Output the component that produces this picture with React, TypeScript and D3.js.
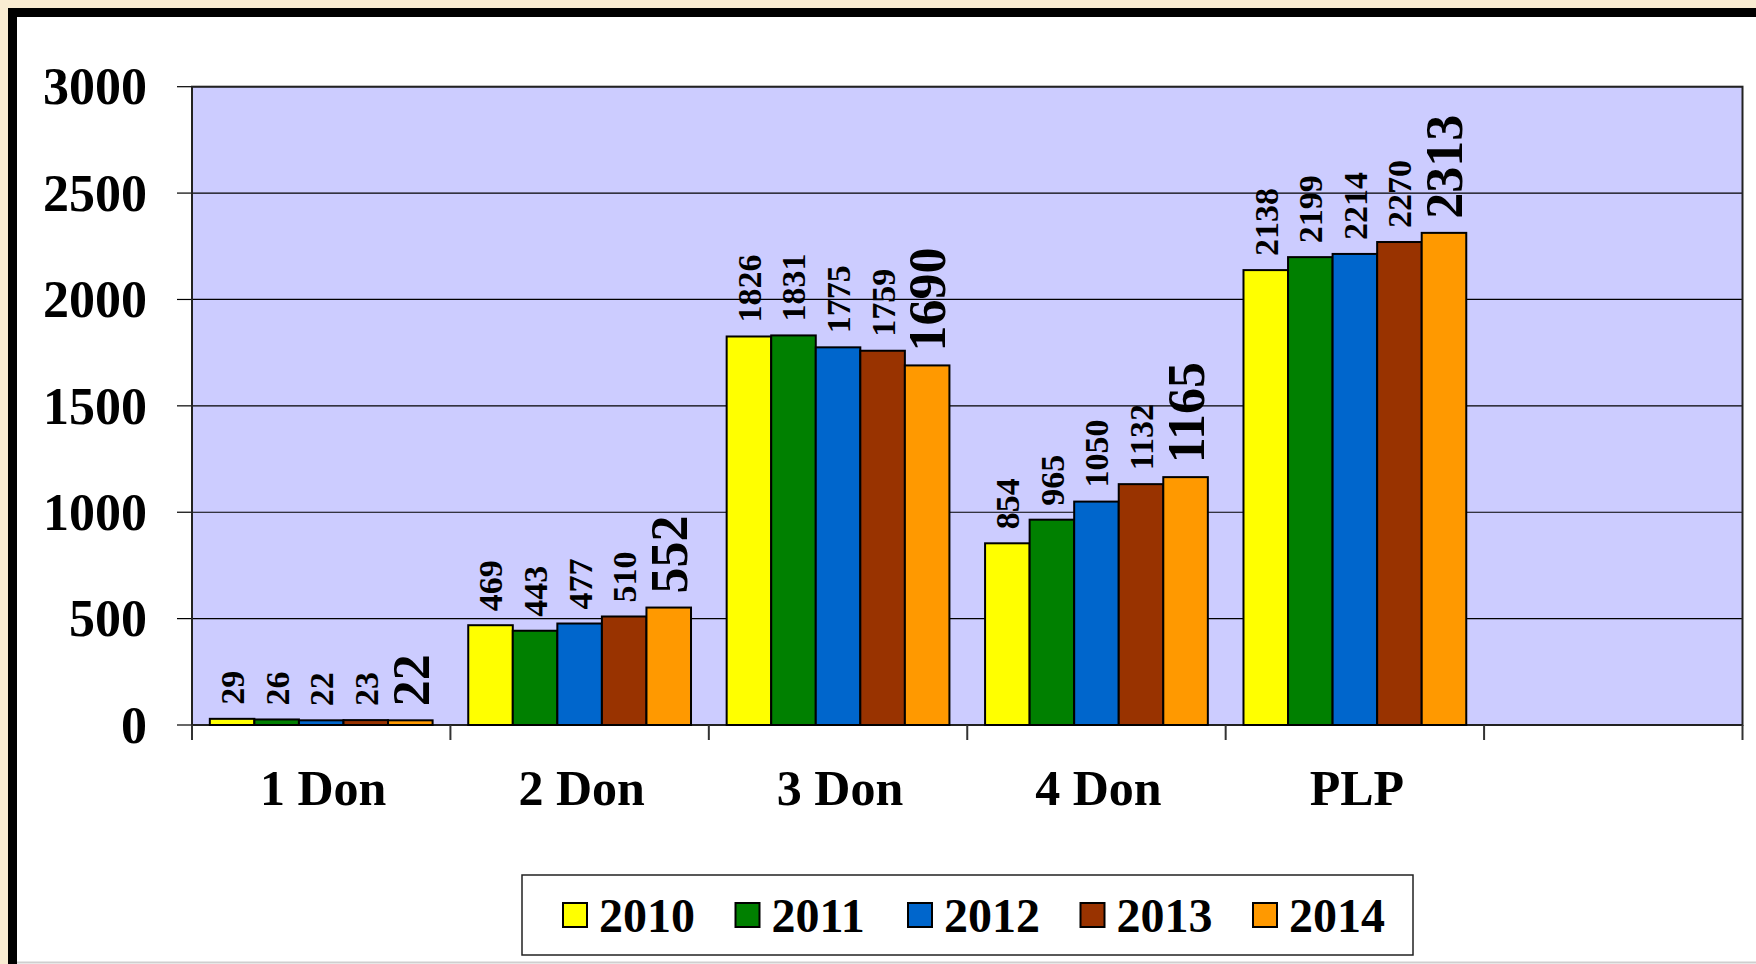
import React from "react";
import * as d3 from "d3";

const categories = ["1 Don", "2 Don", "3 Don", "4 Don", "PLP", ""];
const seriesNames = ["2010", "2011", "2012", "2013", "2014"];
const seriesColors = ["#ffff00", "#008000", "#0066cc", "#993300", "#ff9900"];
const values2010 = [29, 469, 1826, 854, 2138];
const values2011 = [26, 443, 1831, 965, 2199];
const values2012 = [22, 477, 1775, 1050, 2214];
const values2013 = [23, 510, 1759, 1132, 2270];
const values2014 = [22, 552, 1690, 1165, 2313];
const yTicks = [0, 500, 1000, 1500, 2000, 2500, 3000];

const seriesValues = [values2010, values2011, values2012, values2013, values2014];

const W = 1756;
const H = 964;
const FONT = "'Liberation Serif', 'Times New Roman', serif";

export default function App() {
  const plotL = 192, plotR = 1742.5, plotT = 86.7, plotB = 725;
  const x = d3.scaleBand<string>().domain(categories.map((c, i) => String(i))).range([plotL, plotR]).padding(0);
  const xs = d3.scaleBand<string>().domain(seriesNames).range([0, x.bandwidth()]).paddingInner(0).paddingOuter(0.4);
  const y = d3.scaleLinear().domain([0, 3000]).range([plotB, plotT]);
  const bw = xs.bandwidth();

  const boundaries = categories.map((_, i) => x(String(i)) as number).concat([plotR]);

  const legendX0 = 563;
  const legendStep = 172.5;

  return (
    <svg width={W} height={H} style={{ position: "absolute", left: 0, top: 0, display: "block" }} fontFamily={FONT}>
      <rect x={0} y={0} width={W} height={H} fill="#f9ecd2" />
      <rect x={12.5} y={12.5} width={W + 20} height={H + 20} fill="#ffffff" stroke="#000" strokeWidth={9} />
      <line x1={17} x2={W} y1={962.5} y2={962.5} stroke="#cfcfcf" strokeWidth={2} />

      {/* plot area */}
      <rect x={plotL} y={plotT} width={plotR - plotL} height={plotB - plotT} fill="#ccccff" />
      {yTicks.map((t) => (
        <g key={t}>
          <line x1={plotL} x2={plotR} y1={y(t)} y2={y(t)} stroke="#000" strokeWidth={1.2} />
          <line x1={177} x2={plotL} y1={y(t)} y2={y(t)} stroke="#000" strokeWidth={1.2} />
          <text x={147} y={y(t)} dy="0.34em" textAnchor="end" fontSize={52} fontWeight="bold" fill="#000">
            {t}
          </text>
        </g>
      ))}
      <rect x={plotL} y={plotT} width={plotR - plotL} height={plotB - plotT} fill="none" stroke="#222" strokeWidth={2} />

      {/* x ticks */}
      {boundaries.map((bx, i) => (
        <line key={i} x1={bx} x2={bx} y1={plotB} y2={740} stroke="#333" strokeWidth={2} />
      ))}

      {/* bars */}
      {seriesValues.map((vals, si) =>
        vals.map((v, ci) => {
          const bx = (x(String(ci)) as number) + (xs(seriesNames[si]) as number);
          return (
            <rect
              key={`${si}-${ci}`}
              x={bx}
              y={y(v)}
              width={bw}
              height={plotB - y(v)}
              fill={seriesColors[si]}
              stroke="#000"
              strokeWidth={2}
            />
          );
        })
      )}

      {/* value labels */}
      {seriesValues.map((vals, si) =>
        vals.map((v, ci) => {
          const cx = (x(String(ci)) as number) + (xs(seriesNames[si]) as number) + bw / 2;
          const ty = y(v) - 14;
          const big = si === 4;
          return (
            <text
              key={`l-${si}-${ci}`}
              transform={`translate(${cx},${ty}) rotate(-90)`}
              dy="0.35em"
              textAnchor="start"
              fontSize={big ? 52 : 34}
              fontWeight="bold"
              fill="#000"
            >
              {v}
            </text>
          );
        })
      )}

      {/* category labels */}
      {categories.map((c, i) => (
        <text
          key={`c-${i}`}
          x={(x(String(i)) as number) + x.bandwidth() / 2 + 2}
          y={805}
          textAnchor="middle"
          fontSize={50}
          fontWeight="bold"
          fill="#000"
        >
          {c}
        </text>
      ))}

      {/* legend */}
      <rect x={522} y={875} width={891} height={80} fill="#fff" stroke="#222" strokeWidth={1.5} />
      {seriesNames.map((s, i) => (
        <g key={`lg-${i}`}>
          <rect x={legendX0 + i * legendStep} y={903} width={24} height={24} fill={seriesColors[i]} stroke="#000" strokeWidth={2} />
          <text x={legendX0 + i * legendStep + 36} y={932} fontSize={48} fontWeight="bold" fill="#000">
            {s}
          </text>
        </g>
      ))}
    </svg>
  );
}
